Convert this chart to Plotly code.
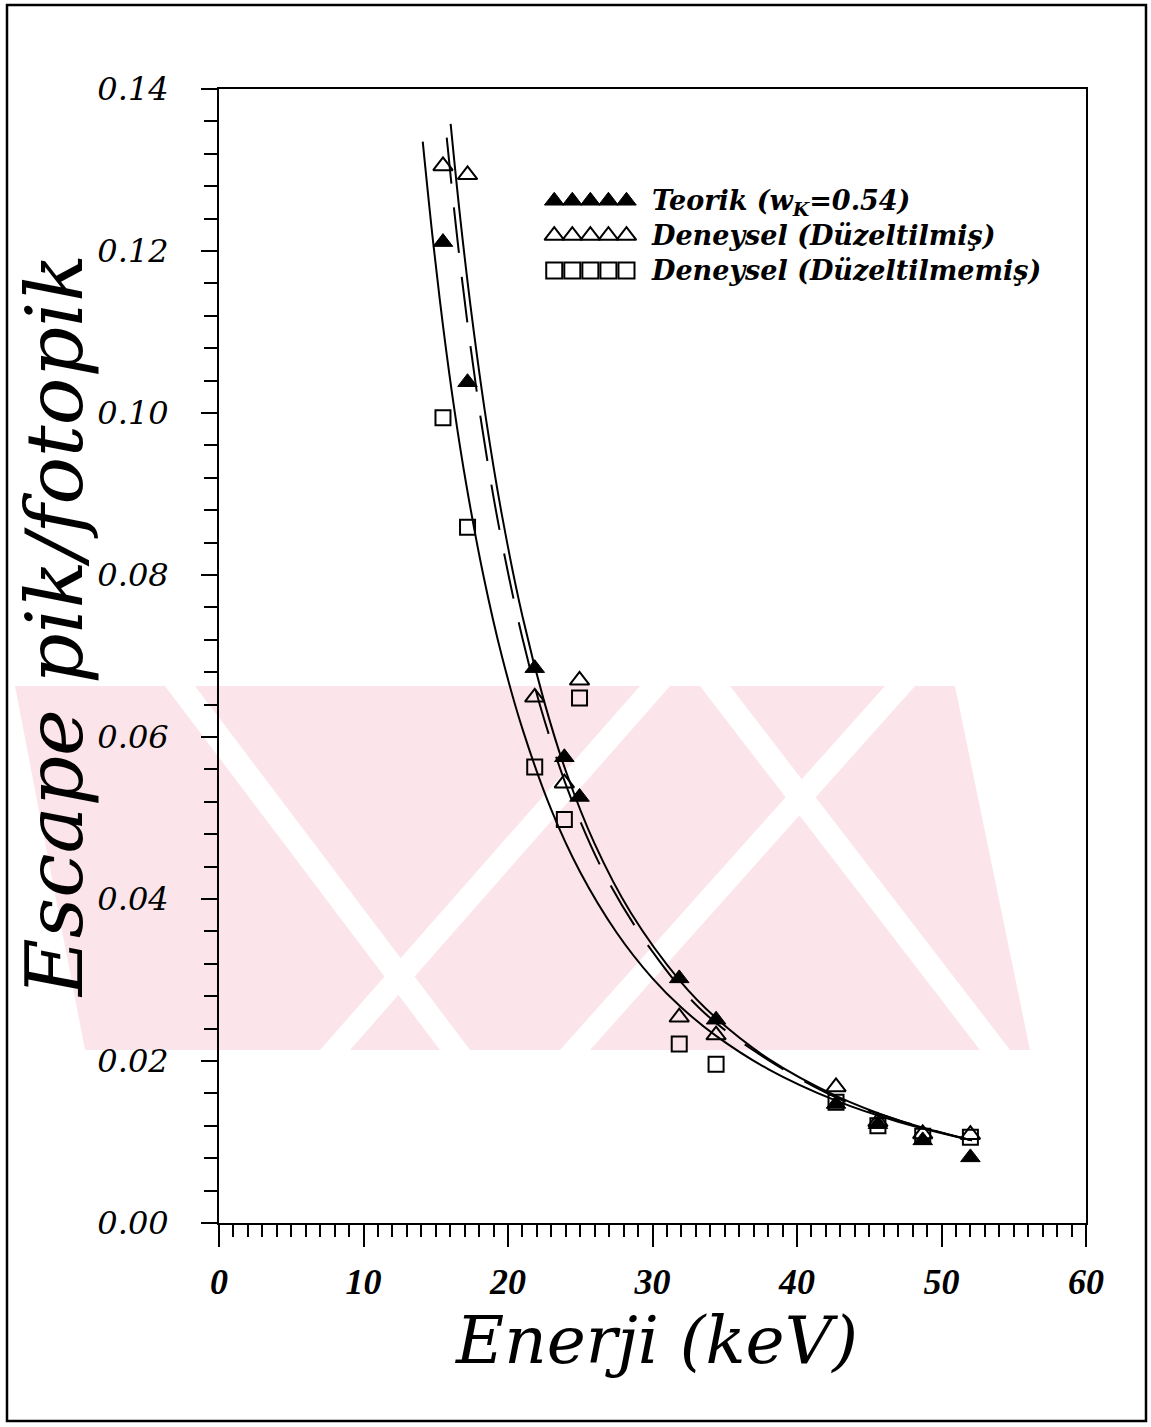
import plotly.graph_objects as go

# ---------------- data ----------------
energy = [15.5, 17.2, 21.85, 23.9, 24.95, 31.85, 34.4, 42.7, 45.6, 48.7, 52.0]
teorik = [0.1211, 0.1038, 0.0685, 0.0575, 0.0526, 0.0302, 0.0251, 0.0147, 0.0122, 0.0102, 0.0081]
duzeltilmis = [0.1305, 0.1294, 0.0649, 0.0543, 0.0670, 0.0254, 0.0232, 0.0168, 0.0125, 0.0110, 0.0109]
duzeltilmemis = [0.0994, 0.0859, 0.0563, 0.0498, 0.0648, 0.0221, 0.0196, 0.0149, 0.0120, 0.0107, 0.0106]

# fitted curves
fitA_x = [14.1, 14.8, 15.5, 16.3, 17.1, 18.3, 19.6, 21.0, 23.0, 25.0, 27.5, 30.0, 32.0, 34.4, 38.0, 42.7, 47.0, 52.1]
fitA_y = [0.1335, 0.1214, 0.1108, 0.1003, 0.0913, 0.0799, 0.0698, 0.0610, 0.0510, 0.0433, 0.0359, 0.0302,
          0.0266, 0.0231, 0.0190, 0.0151, 0.0125, 0.0102]
fitB_x = [16.03, 16.7, 17.5, 18.5, 19.6, 21.0, 22.5, 24.0, 26.0, 28.5, 31.9, 34.4, 38.0, 42.7, 47.0, 52.1]
fitB_y = [0.1357, 0.1240, 0.1119, 0.0990, 0.0872, 0.0749, 0.0644, 0.0558, 0.0468, 0.0383, 0.0299, 0.0253,
          0.0203, 0.0157, 0.0127, 0.0102]
fitC_x = [15.76, 16.4, 17.2, 18.2, 19.4, 21.0, 22.5, 24.5, 27.0, 30.0, 33.2, 37.0, 42.7, 47.0, 52.1]
fitC_y = [0.1340, 0.1230, 0.1110, 0.0983, 0.0857, 0.0722, 0.0622, 0.0518, 0.0420, 0.0335, 0.0266, 0.0213,
          0.0155, 0.0127, 0.0102]

x_ticks = [0, 10, 20, 30, 40, 50, 60]
y_ticks = [0.00, 0.02, 0.04, 0.06, 0.08, 0.10, 0.12, 0.14]
y_tick_text = ["0.00", "0.02", "0.04", "0.06", "0.08", "0.10", "0.12", "0.14"]

legend_labels = ["Teorik (w<sub>K</sub>=0.54)", "Deneysel (Düzeltilmiş)", "Deneysel (Düzeltilmemiş)"]
legend_sym_x = [23.2, 24.45, 25.7, 26.95, 28.2]
legend_row_y = [0.1262, 0.1219, 0.1176]

# ---------------- geometry helpers ----------------
W, H = 1151, 1427
L, R, T, B = 219, 1086, 89, 1223


def px(x):
    return (x - L) / (R - L)


def py(y):
    return (B - y) / (B - T)


SERIF = "Liberation Serif"
DV = "DejaVu Serif"

fig = go.Figure()

curve_line = dict(color="black", width=2, shape="spline", smoothing=1.0)
fig.add_trace(go.Scatter(x=fitA_x, y=fitA_y, mode="lines", line=curve_line, showlegend=False, hoverinfo="skip"))
fig.add_trace(go.Scatter(x=fitB_x, y=fitB_y, mode="lines", line=curve_line, showlegend=False, hoverinfo="skip"))
fig.add_trace(go.Scatter(x=fitC_x, y=fitC_y, mode="lines", line=dict(curve_line, dash="46px,24px"), showlegend=False, hoverinfo="skip"))

# markers
fig.add_trace(go.Scatter(x=energy, y=duzeltilmemis, mode="markers", marker=dict(symbol="square-open", size=15, color="black", line=dict(width=2)), showlegend=False))
fig.add_trace(go.Scatter(x=energy, y=duzeltilmis, mode="markers", marker=dict(symbol="triangle-up-open", size=17, color="black", line=dict(width=2)), showlegend=False))
fig.add_trace(go.Scatter(x=energy, y=teorik, mode="markers", marker=dict(symbol="triangle-up", size=17, color="black", line=dict(width=1, color="black")), showlegend=False))

# legend symbols
legend_syms = ["triangle-up", "triangle-up-open", "square-open"]
for sym, ry in zip(legend_syms, legend_row_y):
    fig.add_trace(go.Scatter(x=legend_sym_x, y=[ry] * len(legend_sym_x), mode="markers",
                             marker=dict(symbol=sym, size=17 if "triangle" in sym else 16, color="black",
                                         line=dict(width=2 if "open" in sym else 1, color="black")),
                             showlegend=False, hoverinfo="skip"))

annotations = []
legend_text = "<br>".join("<b><i>" + lab + "</i></b>" for lab in legend_labels)
annotations.append(dict(x=29.75, y=legend_row_y[1], xref="x", yref="y", text=legend_text, showarrow=False, align="left",
                        xanchor="left", yanchor="middle", font=dict(family=DV, size=27, color="black")))

# axis titles
annotations.append(dict(x=px(55), y=py(626), xref="paper", yref="paper", text="<i>Escape pik/fotopik</i>", textangle=-90,
                        showarrow=False, xanchor="center", yanchor="middle", font=dict(family=DV, size=79, color="black")))
annotations.append(dict(x=px(656), y=py(1340), xref="paper", yref="paper", text="<i>Enerji (keV)</i>",
                        showarrow=False, xanchor="center", yanchor="middle", font=dict(family=DV, size=66, color="black")))

shapes = []
# watermark (light pink emblem behind the plot)
pink = "#fce5ea"


def poly(pts, color):
    d = "M " + " L ".join(f"{px(a):.5f},{py(b):.5f}" for a, b in pts) + " Z"
    return dict(type="path", path=d, xref="paper", yref="paper", fillcolor=color, line=dict(width=0), layer="below")


shapes.append(poly([(15, 686), (955, 686), (1030, 1050), (85, 1050)], pink))
shapes.append(poly([(165, 686), (195, 686), (470, 1050), (440, 1050)], "white"))
shapes.append(poly([(640, 686), (670, 686), (350, 1050), (320, 1050)], "white"))
shapes.append(poly([(700, 686), (730, 686), (1010, 1050), (980, 1050)], "white"))
shapes.append(poly([(885, 686), (915, 686), (590, 1050), (560, 1050)], "white"))

# outer page frame
shapes.append(dict(type="rect", xref="paper", yref="paper", x0=px(7), x1=px(1146), y0=py(1421), y1=py(5),
                   line=dict(color="black", width=2.5), layer="above"))

fig.update_layout(
    width=W, height=H,
    margin=dict(l=L, r=W - R, t=T, b=H - B),
    paper_bgcolor="white", plot_bgcolor="rgba(0,0,0,0)",
    showlegend=False,
    annotations=annotations,
    shapes=shapes,
)

fig.update_xaxes(range=[0, 60], tickvals=x_ticks, ticktext=["<b><i>" + str(v) + "</i></b>" for v in x_ticks],
                 ticks="outside", ticklen=22, tickwidth=2, tickcolor="black",
                 showline=True, linecolor="black", linewidth=2, mirror=True, showgrid=False, zeroline=False,
                 minor=dict(dtick=1, ticks="outside", ticklen=12, tickwidth=1.5, tickcolor="black", showgrid=False),
                 tickfont=dict(family=SERIF, size=36, color="black"), ticklabelstandoff=4)
fig.update_yaxes(range=[0, 0.14], tickvals=y_ticks, ticktext=["<i>" + t + "</i>" for t in y_tick_text],
                 ticks="outside", ticklen=16, tickwidth=2,
                 tickcolor="black", showline=True, linecolor="black", linewidth=2, mirror=True, showgrid=False, zeroline=False,
                 minor=dict(dtick=0.004, ticks="outside", ticklen=13, tickwidth=1.5, tickcolor="black", showgrid=False),
                 tickfont=dict(family=DV, size=32, color="black"), ticklabelstandoff=26)

fig.write_html("out.html")
